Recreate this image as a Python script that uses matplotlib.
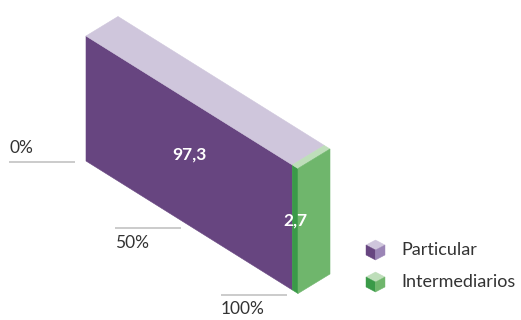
import matplotlib.pyplot as plt
from matplotlib.patches import Rectangle, Polygon
from matplotlib.transforms import Affine2D

# data
categories = ["Particular", "Intermediarios"]
shares = [97.3, 2.7]
value_labels = ["97,3", "2,7"]
tick_values = [0, 50, 100]
tick_labels = ["0%", "50%", "100%"]

# colours per category: front face, top face, side face
front_colors = ["#674580", "#3a9a48"]
top_colors = ["#cfc6dc", "#bedeba"]
side_colors = ["#9b85b6", "#6fb66c"]

plt.rcParams["font.family"] = ["Lato", "DejaVu Sans"]

fig = plt.figure(figsize=(5.21, 3.2), dpi=100)
ax = fig.add_axes([0, 0, 1, 1])
ax.set_xlim(0, 521)
ax.set_ylim(320, 0)
ax.axis("off")

# oblique projection of the block (pixel units, y down)
origin = (86, 161)          # bottom front corner at 0%
step_pct = (2.12, 1.325)    # per percent point
step_depth = (32, -19.5)    # full depth
step_height = (0, -125)     # full height


def face(axis_a, axis_b, corner):
    # maps a face's own 2D coords into the axes
    return Affine2D.from_values(axis_a[0], axis_a[1], axis_b[0], axis_b[1],
                                corner[0], corner[1])


front = face(step_pct, step_height, origin)
top = face(step_pct, step_depth,
           (origin[0] + step_height[0], origin[1] + step_height[1]))
total = sum(shares)
side = face(step_depth, step_height,
            (origin[0] + total * step_pct[0], origin[1] + total * step_pct[1]))

left = 0
for i, share in enumerate(shares):
    ax.add_patch(Rectangle((left, 0), share, 1, facecolor=front_colors[i],
                           edgecolor=front_colors[i], lw=0.4,
                           transform=front + ax.transData))
    ax.add_patch(Rectangle((left, 0), share, 1, facecolor=top_colors[i],
                           edgecolor=top_colors[i], lw=0.4,
                           transform=top + ax.transData))
    ax.text(left + share / 2, 0.57, value_labels[i], transform=front + ax.transData,
            ha="center", va="center", color="white", fontsize=12.5,
            fontweight="bold")
    left += share

# only the last segment shows its side
ax.add_patch(Rectangle((0, 0), 1, 1, facecolor=side_colors[-1],
                       edgecolor=side_colors[-1], lw=0.4,
                       transform=side + ax.transData))

# percent guides
for t, lab in zip(tick_values, tick_labels):
    bx, by = front.transform((t, 0))
    x0, x1, y = bx - 77, bx - 11, by + 1
    ax.plot([x0, x1], [y, y], color="#bdbdbd", lw=1.1, solid_capstyle="butt")
    if t == tick_values[0]:
        ax.text(x0, y - 6, lab, ha="left", va="bottom", fontsize=12.5,
                color="#333333")
    else:
        ax.text(x0, y + 7, lab, ha="left", va="top", fontsize=12.5,
                color="#333333")

# legend with little cubes
hex_top = [(0, -1), (1, -0.5), (0, 0), (-1, -0.5)]
hex_left = [(-1, -0.5), (0, 0), (0, 1), (-1, 0.5)]
hex_right = [(0, 0), (1, -0.5), (1, 0.5), (0, 1)]
for i, cat in enumerate(categories):
    cx, cy = 375.5, 250 + 32 * i
    cube = Affine2D().scale(9.5, 10).translate(cx, cy) + ax.transData
    for verts, col in [(hex_top, top_colors[i]), (hex_left, front_colors[i]),
                       (hex_right, side_colors[i])]:
        ax.add_patch(Polygon(verts, closed=True, facecolor=col, edgecolor=col,
                             lw=0.3, transform=cube))
    ax.text(401, cy, cat, ha="left", va="center", fontsize=13, color="#333333")

fig.savefig("out.png", dpi=100)
